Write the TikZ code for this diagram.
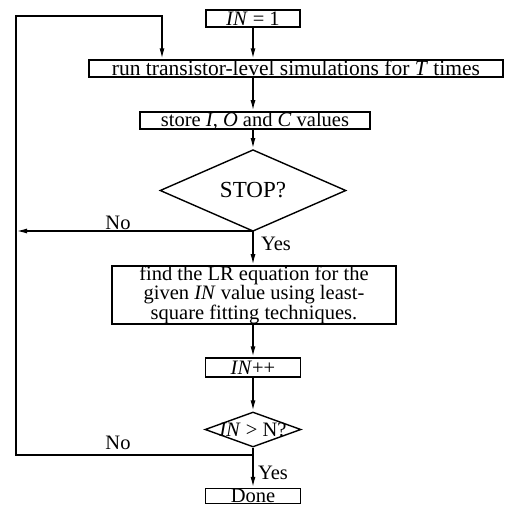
\documentclass[tikz,border=0pt]{standalone}
\usepackage{fontspec}
\setmainfont{Liberation Serif}
\usetikzlibrary{shapes.geometric}
\usetikzlibrary{arrows.meta}

\begin{document}
\begin{tikzpicture}[x=1pt, y=-1pt, font=\fontsize{20.5}{14.5}\selectfont,
		box/.style={draw=black, line width=1.4pt, inner sep=0pt},
		decision/.style={diamond, draw=black, line width=1.4pt, inner sep=0pt},
		flow/.style={line width=1.7pt, -{Latex[length=11pt, width=5pt]}},
		link/.style={line width=1.7pt}]
		\useasboundingbox (0,0) rectangle (505,506);
		
		\node[box, minimum width=94pt, minimum height=17pt] (init) at (253,18.5) {\textit{IN} = 1};
		\node[box, minimum width=414pt, minimum height=17pt, font=\fontsize{21.5}{14.5}\selectfont] (sim) at (296,68.5) {run transistor-level simulations for \textit{T} times};
		\node[box, minimum width=230pt, minimum height=15pt] (store) at (255,120.5) {store \textit{I}, \textit{O} and \textit{C} values};
		\node[decision, minimum width=186pt, minimum height=45pt, font=\fontsize{23}{14.5}\selectfont] (stop) at (253,190.5) {STOP?};
		\node[box, minimum width=284pt, minimum height=56pt, align=center] (lr) at (254,295) {find the LR equation for the\\given \textit{IN} value using least-\\square fitting techniques.};
		\node[box, minimum width=95pt, minimum height=19pt] (incr) at (253,367.5) {\textit{IN}++};
		\node[decision, minimum width=96pt, minimum height=35pt] (check) at (253,429.5) {\makebox[0pt]{\textit{IN} > N?}};
		\node[box, minimum width=95pt, minimum height=15pt] (done) at (253,496) {Done};
		
		\coordinate (jstop) at (253,231);
		\coordinate (jcheck) at (253,455);
		\coordinate (loopbl) at (16,455);
		\coordinate (looptl) at (16,16);
		\coordinate (looptr) at (162,16);
		
		\draw[flow] (init.south) -- (init.south |- sim.north);
		\draw[flow] (init.south |- sim.south) -- (init.south |- store.north);
		\draw[flow] (init.south |- store.south) -- (stop.north);
		\draw[link] (stop.south) -- (jstop);
		\draw[flow] (jstop) -- (loopbl |- jstop);
		\draw[flow] (jstop) -- (jstop |- lr.north);
		\draw[flow] (jstop |- lr.south) -- (incr.north);
		\draw[flow] (incr.south) -- (check.north);
		\draw[flow] (check.south) -- (jcheck) -- (loopbl) -- (looptl) -- (looptr) -- (looptr |- sim.north);
		\draw[flow] (jcheck) -- (done.north);
		
		\node (nostop) at (118,223) {No};
		\node (yesstop) at (276,244) {Yes};
		\node (nocheck) at (118,443) {No};
		\node (yescheck) at (273,473) {Yes};
	\end{tikzpicture}
\end{document}
